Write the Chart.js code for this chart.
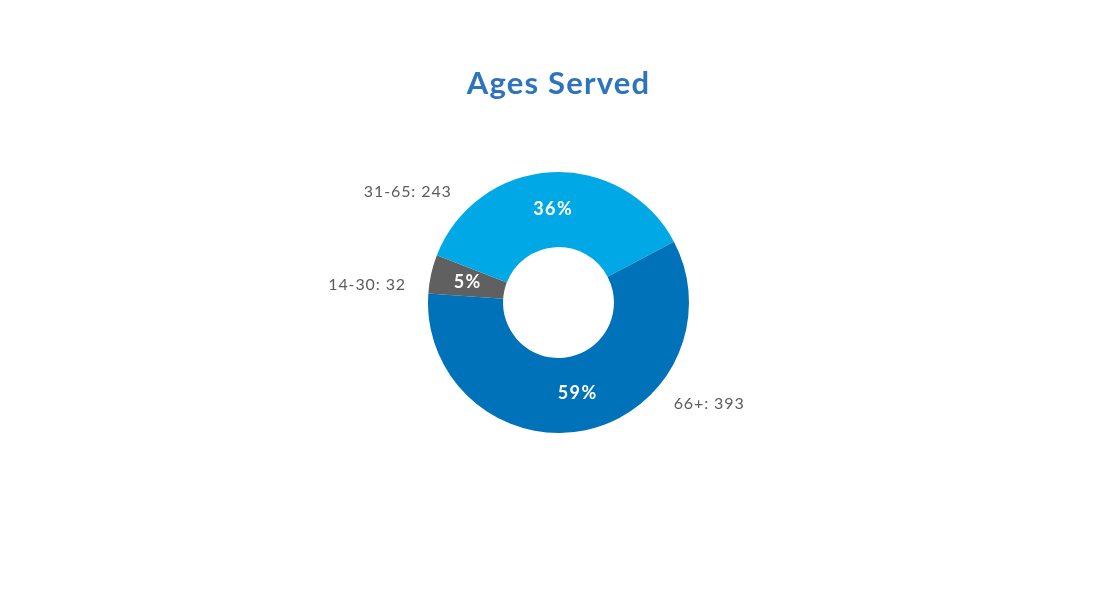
<!DOCTYPE html>
<html>
<head>
<meta charset="utf-8">
<script src="https://cdn.jsdelivr.net/npm/chart.js@4"></script>
<style>
  html, body { margin: 0; padding: 0; background: #ffffff; }
  #wrap { width: 1119px; height: 614px; position: relative; }
</style>
</head>
<body>
<div id="wrap"><canvas id="c" width="1119" height="614"></canvas></div>
<script>
const chartTitle = "Ages Served";
const categories = ["14-30", "31-65", "66+"];
const counts = [32, 243, 393];
const sliceColors = ["#606060", "#00A9E5", "#0072B9"];

const total = counts.reduce((a, b) => a + b, 0);

const labelPlugin = {
  id: "sliceLabels",
  afterDraw(chart) {
    const ctx = chart.ctx;
    // title
    ctx.save();
    ctx.fillStyle = "#2E74BD";
    ctx.font = "bold 31px Lato, 'Open Sans', sans-serif";
    ctx.letterSpacing = "1.2px";
    ctx.textAlign = "center";
    ctx.textBaseline = "middle";
    ctx.fillText(chartTitle, chart.chartArea.left + (chart.chartArea.right - chart.chartArea.left) / 2, 84);
    ctx.restore();

    const meta = chart.getDatasetMeta(0);
    meta.data.forEach((arc, i) => {
      const p = arc.getProps(["x", "y", "startAngle", "endAngle", "innerRadius", "outerRadius"], true);
      let mid = (p.startAngle + p.endAngle) / 2;
      mid = Math.atan2(Math.sin(mid), Math.cos(mid));
      // percentage inside
      const rIn = (p.innerRadius + p.outerRadius) / 2;
      const pct = Math.round(counts[i] / total * 100) + "%";
      ctx.save();
      ctx.fillStyle = "#ffffff";
      ctx.font = "bold 18px Lato, 'Open Sans', sans-serif";
      ctx.letterSpacing = "1.4px";
      ctx.textAlign = "center";
      ctx.textBaseline = "middle";
      ctx.fillText(pct, p.x + Math.cos(mid) * rIn, p.y + Math.sin(mid) * rIn);
      // outside label, angle pulled toward the horizontal
      let a;
      if (Math.abs(mid) <= Math.PI / 2) {
        a = mid * 0.53;
      } else {
        let d = mid - Math.PI;
        d = Math.atan2(Math.sin(d), Math.cos(d));
        a = Math.PI + d * 0.53;
      }
      const rOut = p.outerRadius + 23;
      const lx = p.x + Math.cos(a) * rOut;
      const ly = p.y + Math.sin(a) * rOut;
      ctx.fillStyle = "#5c5c5c";
      ctx.font = "16px Lato, 'Open Sans', sans-serif";
      ctx.letterSpacing = "0.9px";
      ctx.textAlign = Math.cos(a) < 0 ? "right" : "left";
      ctx.fillText(categories[i] + ": " + counts[i], lx, ly);
      ctx.restore();
    });
  }
};

new Chart(document.getElementById("c"), {
  type: "doughnut",
  data: {
    labels: categories,
    datasets: [{
      data: counts,
      backgroundColor: sliceColors,
      borderWidth: 0,
      hoverOffset: 0
    }]
  },
  options: {
    responsive: false,
    animation: false,
    rotation: 274,
    cutout: "42.5%",
    layout: { padding: { top: 172, bottom: 181, left: 0, right: 2 } },
    plugins: {
      legend: { display: false },
      tooltip: { enabled: false },
      title: { display: false }
    }
  },
  plugins: [labelPlugin]
});
</script>
</body>
</html>
